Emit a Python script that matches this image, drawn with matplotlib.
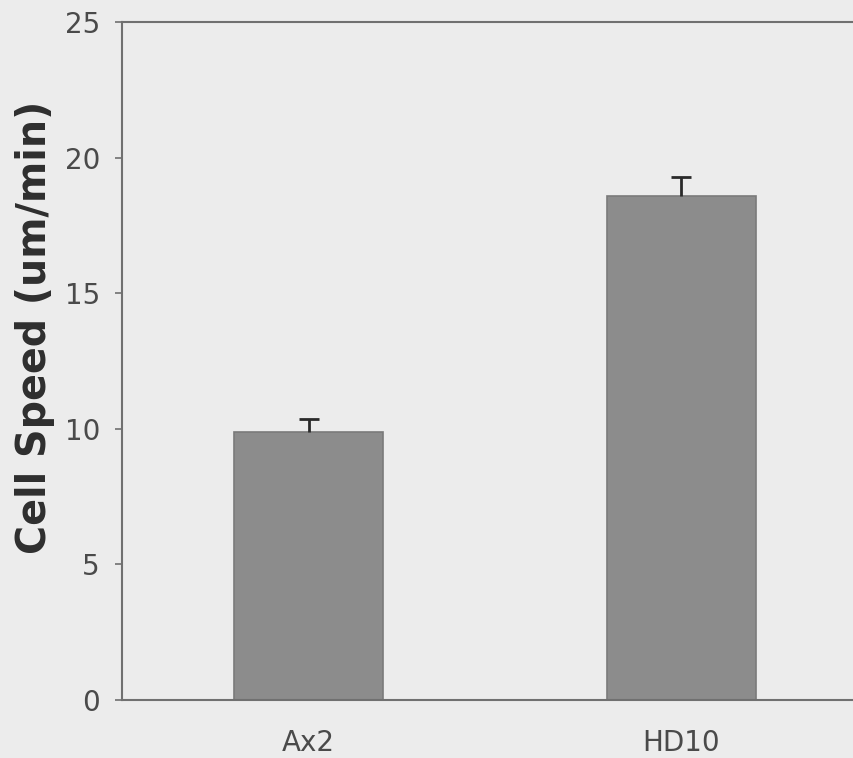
import numpy as np
import matplotlib
matplotlib.use("Agg")
import matplotlib.pyplot as plt

# strains and mean cell speed (um/min) with upper error
strains = ['Ax2', 'HD10']
speed = [9.88, 18.58]
speed_err = [0.48, 0.72]
yticks = [0, 5, 10, 15, 20, 25]

bg = '#ececec'
fig = plt.figure(figsize=(8.54, 7.58), dpi=100, facecolor=bg)
ax = fig.add_axes([0.143, 0.0765, 0.873, 0.8945], facecolor=bg)

x = np.arange(len(strains)) + 0.5
ax.bar(x, speed, width=0.4, color='#8c8c8c', edgecolor='#7a7a7a', linewidth=1.2, zorder=2)
eb = ax.errorbar(x, speed, yerr=[np.zeros(len(speed)), speed_err], fmt='none',
                 ecolor='#2a2a2a', elinewidth=2, capsize=7, capthick=2, zorder=3)
# only the upper cap is drawn in the original
eb[1][0].set_visible(False)

ax.set_xlim(0, 2)
ax.set_ylim(0, 25)
ax.set_yticks(yticks)
ax.set_xticks(x)
ax.set_xticklabels(strains)

for s in ax.spines.values():
    s.set_color('#707070')
    s.set_linewidth(1.5)
ax.spines['right'].set_visible(False)

ax.tick_params(axis='y', direction='out', length=5, width=1.2, color='#707070',
               labelsize=20, labelcolor='#4a4a4a', pad=11)
ax.tick_params(axis='x', length=0, labelsize=20, labelcolor='#4a4a4a', pad=21)

ax.set_ylabel('Cell Speed (um/min)', fontsize=28.5, fontweight='bold', color='#2e2e2e')
ax.yaxis.set_label_coords(-0.09, 0.55)

fig.savefig('out.png', dpi=100, facecolor=bg)
